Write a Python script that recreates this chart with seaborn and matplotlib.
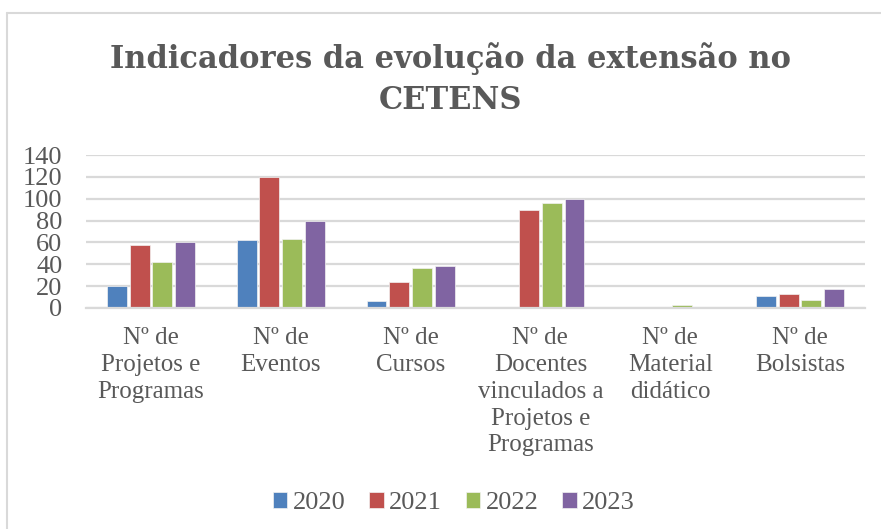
import matplotlib
matplotlib.use("Agg")
import matplotlib.pyplot as plt
import seaborn as sns
import pandas as pd
from matplotlib.lines import Line2D

# categories and values
categories = [
    "Nº de\nProjetos e\nProgramas",
    "Nº de\nEventos",
    "Nº de\nCursos",
    "Nº de\nDocentes\nvinculados a\nProjetos e\nProgramas",
    "Nº de\nMaterial\ndidático",
    "Nº de\nBolsistas",
]
years = ["2020", "2021", "2022", "2023"]
v2020 = [20, 62, 6, 0, 0, 11]
v2021 = [58, 120, 24, 90, 0, 13]
v2022 = [42, 63, 37, 96, 2.5, 7]
v2023 = [60, 80, 38, 100, 0, 17]
palette = ["#4F81BD", "#C0504D", "#9BBB59", "#8064A2"]

rows = []
for year, vals in zip(years, [v2020, v2021, v2022, v2023]):
    for cat, v in zip(categories, vals):
        rows.append({"categoria": cat, "ano": year, "valor": v})
df = pd.DataFrame(rows)

sns.set_theme(style="white")
plt.rcParams["font.family"] = ["Liberation Serif", "DejaVu Serif"]
text_color = "#595959"
grid_color = "#D9D9D9"

fig = plt.figure(figsize=(8.81, 5.29), dpi=100)
ax = fig.add_axes([86 / 881, 1 - 308 / 529, (865 - 86) / 881, (308 - 155) / 529])

sns.barplot(data=df, x="categoria", y="valor", hue="ano", palette=palette,
            width=0.7, gap=0.12, ax=ax, saturation=1, edgecolor="#F2F2F2",
            linewidth=0.5)

ax.set_ylim(0, 140)
ax.set_yticks(range(0, 141, 20))
ax.yaxis.grid(True, color=grid_color, linewidth=1.6)
ax.set_axisbelow(True)
for side in ["top", "right", "left"]:
    ax.spines[side].set_visible(False)
ax.spines["bottom"].set_color(grid_color)
ax.spines["bottom"].set_linewidth(1.6)
ax.tick_params(axis="both", length=0, colors=text_color)
ax.tick_params(axis="y", labelsize=19, pad=17)
ax.tick_params(axis="x", pad=14)
ax.set_xlabel("")
ax.set_ylabel("")
for lbl in ax.get_xticklabels():
    lbl.set_linespacing(1.28)
    lbl.set_fontsize(18)

fig.text(0.511, 0.851, "Indicadores da evolução da extensão no\nCETENS",
         ha="center", va="center", fontsize=22, fontweight="bold",
         color=text_color, linespacing=1.4, family=["DejaVu Serif"])

ax.legend(loc="center", bbox_to_anchor=(0.515, 0.049),
          bbox_transform=fig.transFigure,
          ncol=4, frameon=False, fontsize=19, labelcolor=text_color,
          handlelength=0.55, handleheight=0.55, handletextpad=0.2,
          columnspacing=0.9)

# partial chart border (top and left edges)
fig.add_artist(Line2D([7 / 881, 7 / 881], [0, 1 - 13 / 529], transform=fig.transFigure,
                      color=grid_color, linewidth=1.5))
fig.add_artist(Line2D([7 / 881, 1], [1 - 13 / 529, 1 - 13 / 529], transform=fig.transFigure,
                      color=grid_color, linewidth=1.5))

fig.savefig("out.png", dpi=100)
